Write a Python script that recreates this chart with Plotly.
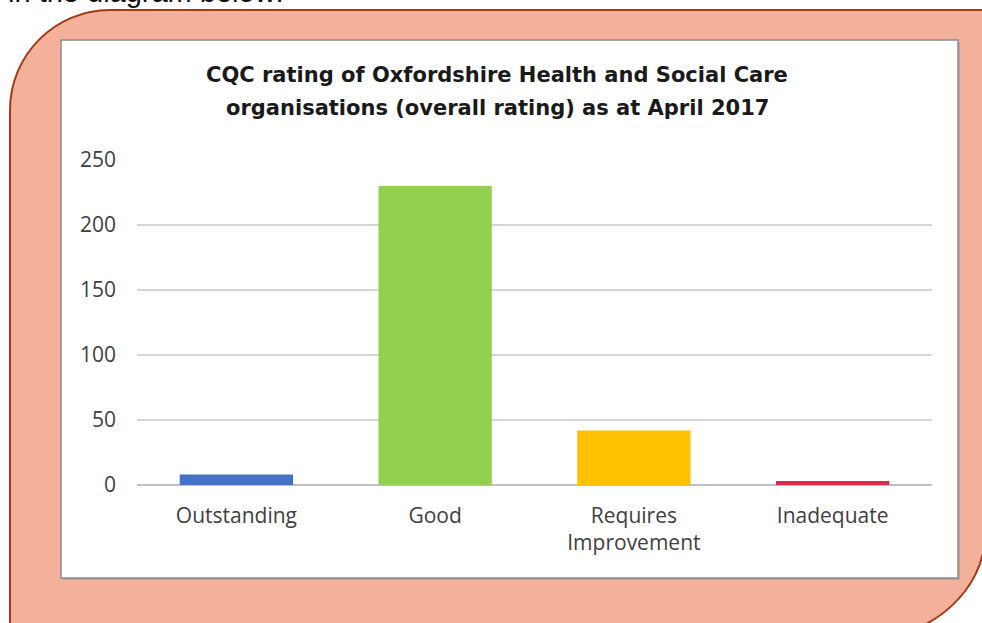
import plotly.graph_objects as go

categories = ["Outstanding", "Good", "Requires<br>Improvement", "Inadequate"]
values = [8, 230, 42, 3]
bar_colors = ["#4472C4", "#92D050", "#FFC000", "#E0284A"]
y_ticks = [0, 50, 100, 150, 200, 250]

W, H = 982, 623
L, R, T, B = 137, 932, 160, 485

def px(x):
    return (x - L) / (R - L)

def py(y):
    return (B - y) / (B - T)

def P(x, y):
    return f"{px(x):.5f},{py(y):.5f}"

fig = go.Figure()
fig.add_trace(go.Bar(
    x=categories, y=values, marker_color=bar_colors, width=0.57,
    marker_line_width=0, showlegend=False, hoverinfo="x+y",
))

k = 0.45
r = 100
salmon = (
    f"M {P(10, 640)} L {P(10, 10 + r)} "
    f"C {P(10, 10 + r * k)} {P(10 + r * k, 10)} {P(10 + r, 10)} "
    f"L {P(1000, 10)} L {P(985, 10)} L {P(985, 535)} "
    f"C {P(985, 535 + r * (1 - k))} {P(985 - r * (1 - k), 635)} {P(885, 635)} "
    f"L {P(10, 635)} Z"
)

shapes = [
    dict(type="path", xref="paper", yref="paper", path=salmon,
         fillcolor="#F3B19B", line=dict(color="#A33A14", width=2), layer="below"),
    dict(type="rect", xref="paper", yref="paper",
         x0=px(63), x1=px(960), y0=py(42), y1=py(580),
         fillcolor="#9A9A9A", line=dict(width=0), layer="below", opacity=0.6),
    dict(type="rect", xref="paper", yref="paper",
         x0=px(61), x1=px(958), y0=py(40), y1=py(578),
         fillcolor="white", line=dict(color="#8C8C8C", width=1.5), layer="below"),
]

title_font = dict(family="DejaVu Sans, sans-serif", size=21, color="#1a1a1a")

fig.update_layout(
    width=W, height=H,
    margin=dict(l=L, r=W - R, t=T, b=H - B, pad=0),
    paper_bgcolor="white", plot_bgcolor="rgba(0,0,0,0)",
    bargap=0.43,
    shapes=shapes,
    font=dict(family="Open Sans, sans-serif", color="#404040", size=21),
    annotations=[
        dict(text="<b>CQC rating of Oxfordshire Health and Social Care</b>",
             xref="paper", yref="paper", x=px(497), y=py(75), xanchor="center", yanchor="middle",
             showarrow=False, font=title_font),
        dict(text="<b>organisations (overall rating) as at April 2017</b>",
             xref="paper", yref="paper", x=px(497), y=py(108), xanchor="center", yanchor="middle",
             showarrow=False, font=title_font),
        dict(text="in the diagram below:", xref="paper", yref="paper",
             x=px(6), y=py(10), xanchor="left", yanchor="bottom", showarrow=False,
             font=dict(family="Liberation Sans, Arial, sans-serif", size=29, color="#111111")),
    ],
)
fig.update_xaxes(showgrid=False, showline=False, ticks="", ticklabelstandoff=16,
                 tickfont=dict(size=21, color="#404040"), fixedrange=True)
fig.update_yaxes(range=[0, 250], tickvals=y_ticks, showgrid=True, gridcolor="#D6D6D6", gridwidth=1.5,
                 zeroline=True, zerolinecolor="#C0C0C0", zerolinewidth=1.5,
                 ticks="", ticklabelstandoff=20, tickfont=dict(size=21, color="#404040"), fixedrange=True)

fig.write_html("out.html", config={"displayModeBar": False},
               post_script="document.body.style.margin='0';")
